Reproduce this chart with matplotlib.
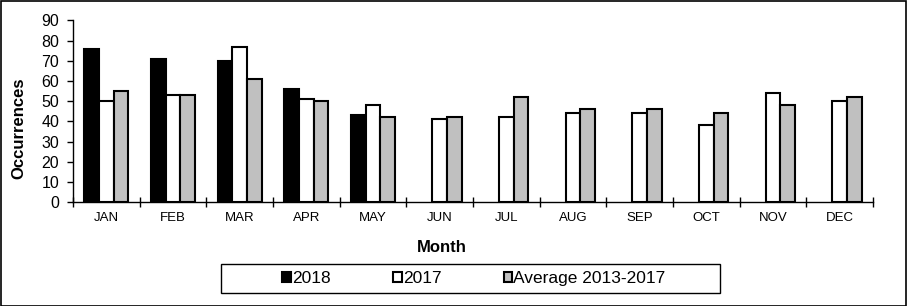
import matplotlib
matplotlib.use("Agg")
import matplotlib.pyplot as plt
import numpy as np
from matplotlib.patches import Rectangle

months = ["JAN", "FEB", "MAR", "APR", "MAY", "JUN", "JUL", "AUG", "SEP", "OCT", "NOV", "DEC"]
y2018 = [76, 71, 70, 56, 43, None, None, None, None, None, None, None]
y2017 = [50, 53, 77, 51, 48, 41, 42, 44, 44, 38, 54, 50]
avg = [55, 53, 61, 50, 42, 42, 52, 46, 46, 44, 48, 52]
series_names = ["2018", "2017", "Average 2013-2017"]
colors = ["#000000", "#ffffff", "#c0c0c0"]

plt.rcParams['font.family'] = ['Liberation Sans', 'DejaVu Sans']

W, H = 908, 306
fig = plt.figure(figsize=(W / 100, H / 100), dpi=100)
left, right, top, bottom = 73, 873, 20.3, 202.3
ax = fig.add_axes([left / W, 1 - bottom / H, (right - left) / W, (bottom - top) / H])

x = np.arange(len(months))
bw = 0.22
handles = []
for i, (vals, c, name) in enumerate(zip([y2018, y2017, avg], colors, series_names)):
    xs = [xi + (i - 1) * bw for xi, v in zip(x, vals) if v is not None]
    hs = [v for v in vals if v is not None]
    b = ax.bar(xs, hs, width=bw, color=c, edgecolor="black", linewidth=1.5, label=name, zorder=3)
    handles.append(b)

ax.set_xlim(-0.5, len(months) - 0.5)
ax.set_ylim(0, 90)
ax.set_yticks(range(0, 91, 10))
ax.tick_params(axis='y', labelsize=11.5, length=4, width=1, direction='out', pad=6)
ax.set_xticks(x)
ax.set_xticklabels(months, fontsize=9.5)
ax.tick_params(axis='x', length=0, pad=7)
ax.set_xticks(np.arange(-0.5, len(months)), minor=True)
ax.tick_params(axis='x', which='minor', length=7, width=1, direction='inout')
for s in ["top", "right"]:
    ax.spines[s].set_visible(False)
for s in ["left", "bottom"]:
    ax.spines[s].set_linewidth(1)

ax.set_ylabel("Occurrences", fontsize=12, fontweight='bold')
ax.yaxis.label.set_verticalalignment('center')
ax.yaxis.set_label_coords((19 - left) / (right - left), (bottom - 128) / (bottom - top))
ax.set_xlabel("Month", fontsize=12, fontweight='bold')
ax.xaxis.label.set_verticalalignment('center')
ax.xaxis.set_label_coords((442 - left) / (right - left), -(247 - bottom) / (bottom - top))

# legend frame
lx0, lx1, ly0, ly1 = 221, 720, 264, 293
fig.patches.append(Rectangle((lx0 / W, 1 - ly1 / H), (lx1 - lx0) / W, (ly1 - ly0) / H,
                             transform=fig.transFigure, fill=False,
                             edgecolor='black', linewidth=1))
leg = fig.legend(handles=handles, labels=series_names, loc='center',
                 bbox_to_anchor=(474 / W, 1 - 278.5 / H),
                 ncol=3, fontsize=12.5, frameon=False,
                 handlelength=0.5, handleheight=0.5,
                 handletextpad=0.05, columnspacing=3.6, borderpad=0.2)

fig.patches.append(Rectangle((0.5 / W, 0.5 / H), (W - 2.5) / W, (H - 1.5) / H,
                             transform=fig.transFigure, fill=False,
                             edgecolor='black', linewidth=1.2))

fig.savefig("out.png", dpi=100)
